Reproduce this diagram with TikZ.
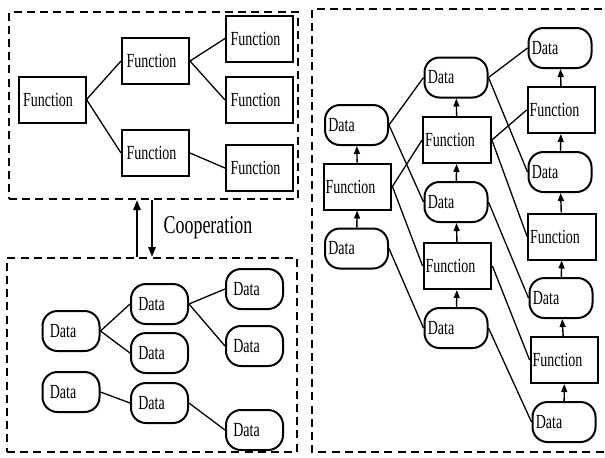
\documentclass[tikz,border=0pt]{standalone}
\usepackage{fontspec}
\setmainfont{Liberation Serif}[FakeStretch=0.7]
\usetikzlibrary{arrows.meta}
\begin{document}
\begin{tikzpicture}[x=0.5pt,y=-0.5pt,
  lbl/.style={font=\fontsize{10}{12}\selectfont},
  fnbox/.style={lbl,draw,line width=1pt,inner sep=1pt,minimum height=23pt,
    minimum width=33.5pt,execute at end node=\kern4pt},
  fnnarrow/.style={fnbox,minimum width=31pt,execute at end node=\kern3pt},
  databox/.style={lbl,draw,line width=1pt,rounded corners=7.5pt,inner sep=1pt,
    minimum height=20pt,minimum width=28.5pt,execute at end node=\kern8pt},
  datawide/.style={databox,minimum width=31.5pt,execute at end node=\kern7pt},
  group/.style={draw,line width=1pt,dash pattern=on 4pt off 2.6pt,inner sep=0pt},
  link/.style={line width=0.65pt},
  flow/.style={line width=0.7pt,-{Triangle[length=4pt,width=3pt]}},
  coop/.style={line width=1pt,-{Triangle[length=5pt,width=3.6pt]}}]
\useasboundingbox (0,0) rectangle (605,457);

% ---------- function tree (upper left) ----------
\node[group,minimum width=144.5pt,minimum height=93.5pt] (fgroup) at (153.5,105.5) {};
\node[fnbox] (fa)  at (52,99.5)   {Function};
\node[fnbox] (fb)  at (155.5,61)  {Function};
\node[fnbox] (fc)  at (155.5,153) {Function};
\node[fnbox] (fd1) at (259.5,38.5){Function};
\node[fnbox] (fd2) at (259.5,100) {Function};
\node[fnbox] (fd3) at (259.5,168) {Function};
\draw[link] (fa.east) -- (fb.west);
\draw[link] (fa.east) -- (fc.west);
\draw[link] (fb.east) -- (fd1.west);
\draw[link] (fb.east) -- (fd2.west);
\draw[link] (fc.east) -- (fd3.west);

% ---------- data tree (lower left) ----------
\node[group,minimum width=145pt,minimum height=97pt] (dgroup) at (152,355) {};
\node[databox] (da) at (71,331)    {Data};
\node[databox] (db) at (159.5,304) {Data};
\node[databox] (dc) at (159.5,353) {Data};
\node[databox] (dd) at (254.5,289) {Data};
\node[databox] (de) at (254.5,346) {Data};
\node[databox] (df) at (71,392)    {Data};
\node[databox] (dg) at (159.5,403) {Data};
\node[databox] (dh) at (254.5,430) {Data};
\draw[link] (da.east) -- (db.west);
\draw[link] (da.east) -- (dc.west);
\draw[link] (db.east) -- (dd.west);
\draw[link] (db.east) -- (de.west);
\draw[link] (df.east) -- (dg.west);
\draw[link] (dg.east) -- (dh.west);

% ---------- cooperation between the two trees ----------
\coordinate (upx) at (137,0);
\coordinate (downx) at (152,0);
\draw[coop] (dgroup.north -| upx) -- (fgroup.south -| upx);
\draw[coop] (fgroup.south -| downx) -- (dgroup.north -| downx);
\node[font=\fontsize{12.8}{14}\selectfont] (coopl) at (208,228) {Cooperation};

% ---------- pipeline (right) ----------
\coordinate (rtl) at (615,9);
\coordinate (rbl) at (312,452);
\draw[line width=1pt,dash pattern=on 4pt off 2.6pt] (rtl) -| (rbl) -- (615,452);

% first stage
\node[datawide] (p1d1) at (356.5,125)   {Data};
\node[fnnarrow] (p1f)  at (357.5,186.5) {Function};
\node[datawide] (p1d0) at (356.5,248.5) {Data};
% second stage
\node[datawide] (p2d1) at (456,77.5)  {Data};
\node[fnnarrow] (p2f1) at (457,140)   {Function};
\node[datawide] (p2d2) at (456,202)   {Data};
\node[fnnarrow] (p2f2) at (457.5,266) {Function};
\node[datawide] (p2d3) at (456,328)   {Data};
% third stage
\node[datawide] (p3d1) at (560,48)    {Data};
\node[fnnarrow] (p3f1) at (561.5,110) {Function};
\node[datawide] (p3d2) at (560,172)   {Data};
\node[fnnarrow] (p3f2) at (562,236.5) {Function};
\node[datawide] (p3d3) at (561,298)   {Data};
\node[fnnarrow] (p3f3) at (564.5,360) {Function};
\node[datawide] (p3d4) at (564,422)   {Data};

% flow inside each stage
\draw[flow] (p1d0) -- (p1f);
\draw[flow] (p1f) -- (p1d1);
\draw[flow] (p2d3) -- (p2f2);
\draw[flow] (p2f2) -- (p2d2);
\draw[flow] (p2d2) -- (p2f1);
\draw[flow] (p2f1) -- (p2d1);
\draw[flow] (p3d4) -- (p3f3);
\draw[flow] (p3f3) -- (p3d3);
\draw[flow] (p3d3) -- (p3f2);
\draw[flow] (p3f2) -- (p3d2);
\draw[flow] (p3d2) -- (p3f1);
\draw[flow] (p3f1) -- (p3d1);

% links between stages
\draw[link] (p1d1.east) -- (p2d1.west);
\draw[link] (p1d1.east) -- (p2d2.west);
\draw[link] (p1f.east)  -- (p2f1.west);
\draw[link] (p1f.east)  -- (p2f2.west);
\draw[link] (p1d0.east) -- (p2d3.west);
\draw[link] (p2d1.east) -- (p3d1.west);
\draw[link] (p2d1.east) -- (p3d2.west);
\draw[link] (p2f1.east) -- (p3f1.west);
\draw[link] (p2f1.east) -- (p3f2.west);
\draw[link] (p2d2.east) -- (p3d3.west);
\draw[link] (p2f2.east) -- (p3f3.west);
\draw[link] (p2d3.east) -- (p3d4.west);
\end{tikzpicture}
\end{document}
